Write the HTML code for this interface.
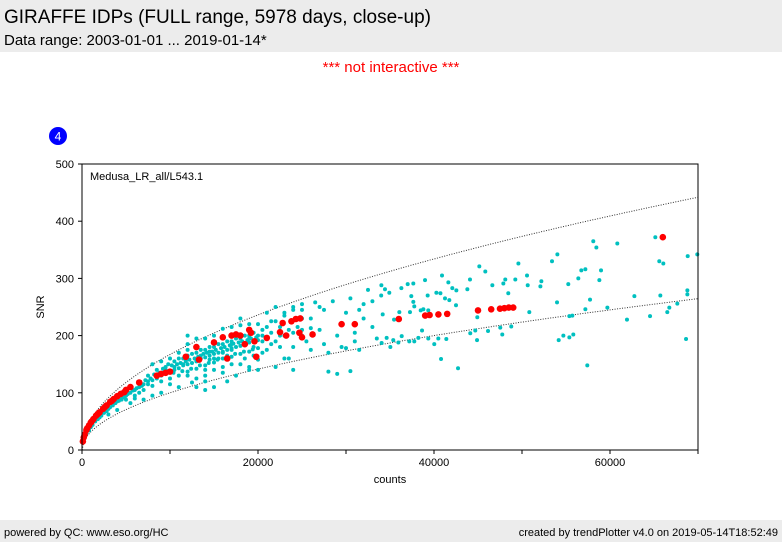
<!DOCTYPE html>
<html><head><meta charset="utf-8"><style>
body{margin:0;width:782px;height:542px;background:#fff;font-family:"Liberation Sans","DejaVu Sans",sans-serif;position:relative;overflow:hidden}
.hdr{position:absolute;left:0;top:0;width:782px;height:52px;background:#ececec}
.t1{position:absolute;left:4px;top:7px;font-size:19px;color:#000}
.t2{position:absolute;left:4px;top:32px;font-size:15px;color:#000}
.ni{position:absolute;left:0;width:782px;top:59px;text-align:center;color:#f00;font-size:15px}
.ftr{position:absolute;left:0;top:520px;width:782px;height:22px;background:#ececec;font-size:11px}
.fl{position:absolute;left:4px;top:7px}.fr{position:absolute;right:4px;top:7px}
svg{position:absolute;left:0;top:0}
</style></head><body>
<div class="hdr">
<div class="t1">GIRAFFE IDPs (FULL range, 5978 days, close-up)</div>
<div class="t2">Data range: 2003-01-01 ... 2019-01-14*</div></div>
<div class="ni">*** not interactive ***</div>
<svg id="c" width="782" height="542"></svg>
<div class="ftr"><span class="fl">powered by QC: www.eso.org/HC</span><span class="fr">created by trendPlotter v4.0 on 2019-05-14T18:52:49</span></div>
<script>
const xTicks=[0,20000,40000,60000];
const xMinor=[10000,30000,50000,70000];
const yTicks=[0,100,200,300,400,500];
const curveFactors=[1.0,1.67];
const cyanPts=[[500,28],[1000,40],[1500,50],[2000,57],[2500,65],[3000,72],[3500,78],[4000,85],[4500,90],[5000,95],[5500,100],[6000,105],[6500,110],[7000,115],[7500,120],[8000,122],[8500,127],[9000,130],[9500,135],[10000,138],[10500,140],[11000,143],[11500,148],[12000,150],[12500,152],[13000,155],[13500,160],[14000,162],[14500,165],[15000,168],[15500,170],[16000,172],[16500,175],[17000,178],[17500,180],[18000,182],[18500,185],[19000,188],[19500,190],[20000,192],
[6000,95],[7000,105],[8000,112],[9000,120],[10000,125],[11000,130],[12000,137],[13000,142],[14000,148],[15000,153],[16000,160],[17000,163],[18000,168],[19000,172],[20000,178],[6500,120],[7500,130],[8500,140],[9500,145],[10500,155],[11500,160],[12500,168],[13500,175],[14500,180],[15500,185],[16500,190],[17500,195],[18500,200],[19500,205],[20500,210],[16000,212],[17000,215],[18000,218],[19000,220],[14000,195],[12000,175],[10000,160],[8000,150],[9000,100],[11000,110],[12500,118],[14000,105],[15000,110],[16500,120],[17500,130],[18000,150],[19000,140],[20000,158],[7000,88],[5500,82],[4000,70],[3000,62],[6000,90],[4500,88],[3500,80],[8000,95],[10000,115],[12000,130],[13000,125],[15000,140],[16000,145],[17000,150],[18500,160],[19500,165],[20500,170],[14500,172],[13500,165],[11500,150],[10500,145],[9500,140],[8500,125],[7500,115],[6500,100],[5000,88],[12000,185],[13000,195],[15000,200],[16000,170],[17000,185],[19000,195],[20000,200],[11000,170],[9000,155],[14000,130],[12000,200],[18000,230],[17000,175],[15500,160],[14500,158],[16500,165],[19500,180],[20000,220],[21000,215],[22000,225],[23000,240],[24000,250],[25000,245],[22000,190],[23000,200],[21000,195],[24000,205],[25000,210],[19000,145],[20000,140],[16000,135],[14000,120],[13000,110],
[10200,148],[10800,150],[11200,152],[11800,155],[12200,158],[12800,160],[13200,163],[13800,168],[14200,170],[14800,172],[15200,175],[15800,178],[16200,180],[16800,183],[17200,186],[17800,188],[18200,190],[18800,192],[19200,195],[19800,197],[10400,135],[11400,138],[12400,142],[13400,148],[14400,152],[15400,158],[16400,162],[17400,168],[18400,172],[19400,176],[11000,160],[12000,165],[13000,170],[14000,175],[15000,180],[16000,185],[17000,190],[18000,195],[19000,200],[20500,200],[21500,185],[22500,215],[9800,150],[9200,142],[8800,135],[8200,132],[7800,125],[7200,122],[6800,112],[6200,108],[5800,104],[5200,98],[4800,92],[4200,86],[3800,82],[3200,75],[2800,68],[2200,60],[1800,54],[1200,44],[800,34],[14000,140],[15000,160],[16000,195],[13000,180],[17000,200],
[21000,240],[21500,225],[22000,250],[22500,180],[23000,235],[23500,160],[24000,245],[24500,215],[25000,255],[25500,190],[26000,230],[26500,258],[27000,210],[27500,245],[28000,170],[28500,260],[29000,200],[29500,180],[30000,240],[30500,265],[31000,190],[31500,175],[32000,255],[32500,280],[33000,215],[33500,195],[34000,270],[22000,145],[23000,160],[26000,175],[28000,137],[29000,133],[30500,138],[27000,250],[25000,200],[24000,180],[23500,210],[22500,200],[21000,175],[20500,190],[21500,205],[24000,140],[25000,230],[26000,213],[27500,185],[31000,205],[32000,230],[33000,260],[30000,178],[31500,245],
[58100,365],[60830,361],[65150,372],[65600,330],[66060,326],[69920,342],[68830,339],[54020,342],[53410,330],[58450,354],[56740,314],[57200,316],[58980,314],[58790,297],[56400,300],[55260,290],[52200,295],[52090,286],[50570,305],[50650,288],[49590,326],[45150,321],[45830,312],[49240,298],[48100,298],[47880,291],[46630,288],[44090,298],[43790,281],[40910,305],[41630,293],[42080,283],[42540,279],[40270,275],[40730,274],[38980,297],[37010,290],[37650,291],[36290,283],[34920,275],[34020,288],[34430,281],[53980,258],[57730,263],[59700,249],[62770,269],[65720,270],[68790,279],[68790,272],[67650,256],[66740,249],[66510,241],[64550,234],[61930,228],[55720,235],[55380,234],[57200,246],[54170,192],[54700,200],[55380,197],[55830,202],[57420,148],[68640,194],[50830,241],[48440,274],[48780,216],[47760,202],[47530,214],[46140,208],[44920,232],[44690,209],[44890,192],[44120,204],[42730,143],[40800,159],[41400,194],[40490,195],[40030,185],[39350,195],[38640,209],[37760,190],[37190,190],[38220,196],[36330,199],[35950,188],[35040,180],[34620,196],[34050,187],[35370,192],[37650,259],[38790,246],[37760,251],[37420,269],[36060,241],[35460,228],[37270,241],[39350,244],[38490,244],[39280,270],[41250,265],[41740,262],[42500,253],[34170,237]];
const redPts=[[100,15],[200,22],[300,27],[500,35],[600,38],[800,43],[1000,48],[1100,50],[1300,54],[1600,60],[1800,63],[2000,66],[2400,72],[2600,75],[2800,78],[3200,84],[3400,86],[3600,89],[4000,94],[4400,98],[4800,101],[5000,105],[5500,110],[6500,118],[8500,130],[9000,133],[9500,135],[10000,137],[11800,163],[13000,180],[13300,158],[15000,188],[16000,197],[16500,160],[17000,200],[17500,202],[18000,200],[18500,185],[19000,210],[19200,205],[19600,190],[19800,163],[21000,196],[22500,206],[22800,222],[23200,200],[23800,225],[24300,229],[24800,230],[24700,205],[25000,197],[26200,202],[29500,220],[31000,220],[36000,229],[39000,235],[39500,236],[40500,237],[41500,238],[45000,244],[46500,246],[47500,247],[48000,248],[48500,249],[49000,249],[66000,372]];
const X0=82,X1=698,Y0=450,Y1=164,XMAX=70000,YMAX=500;
const sx=v=>X0+(v/XMAX)*(X1-X0);
const sy=v=>Y0-(v/YMAX)*(Y0-Y1);
const svg=document.getElementById('c');const NS='http://www.w3.org/2000/svg';
function mk(t,a){const e=document.createElementNS(NS,t);for(const k in a)e.setAttribute(k,a[k]);svg.appendChild(e);return e;}
const badge=mk('circle',{cx:58,cy:136,r:9,fill:'#0000ff'});


const bt=mk('text',{x:58,y:140.5,'text-anchor':'middle','font-size':12,fill:'#fff'});bt.textContent='4';


curveFactors.forEach((f,i)=>{let d='';for(let c=0;c<=XMAX;c+=250){d+=(c?'L':'M')+sx(c).toFixed(1)+','+sy(f*Math.sqrt(c)).toFixed(1);}
const p=mk('path',{d:d,fill:'none',stroke:'#333','stroke-width':1,'stroke-dasharray':'1,1.5'});

});
cyanPts.forEach(p=>{const e=mk('circle',{cx:sx(p[0]),cy:sy(p[1]),r:2,fill:'#00c0c0'});

});
redPts.forEach(p=>{const e=mk('circle',{cx:sx(p[0]),cy:sy(p[1]),r:3.3,fill:'#ff0000'});

});
const fr=mk('rect',{x:X0,y:Y1,width:X1-X0,height:Y0-Y1,fill:'none',stroke:'#000','stroke-width':1});


xTicks.forEach(v=>{mk('line',{x1:sx(v),x2:sx(v),y1:Y0,y2:Y0+4,stroke:'#000'});
const t=mk('text',{x:sx(v),y:Y0+16,'text-anchor':'middle','font-size':11});t.textContent=v;

});
xMinor.forEach(v=>{mk('line',{x1:sx(v),x2:sx(v),y1:Y0,y2:Y0+4,stroke:'#000'});});
yTicks.forEach(v=>{mk('line',{x1:X0-4,x2:X0,y1:sy(v),y2:sy(v),stroke:'#000'});
const t=mk('text',{x:X0-8,y:sy(v)+4,'text-anchor':'end','font-size':11});t.textContent=v;

});
const xl=mk('text',{x:390,y:483,'text-anchor':'middle','font-size':11});xl.textContent='counts';


const yl=mk('text',{x:44,y:307,'text-anchor':'middle','font-size':11,transform:'rotate(-90 44 307)'});yl.textContent='SNR';


const lb=mk('text',{x:90,y:180,'font-size':11});lb.textContent='Medusa_LR_all/L543.1';


</script>
</body></html>
